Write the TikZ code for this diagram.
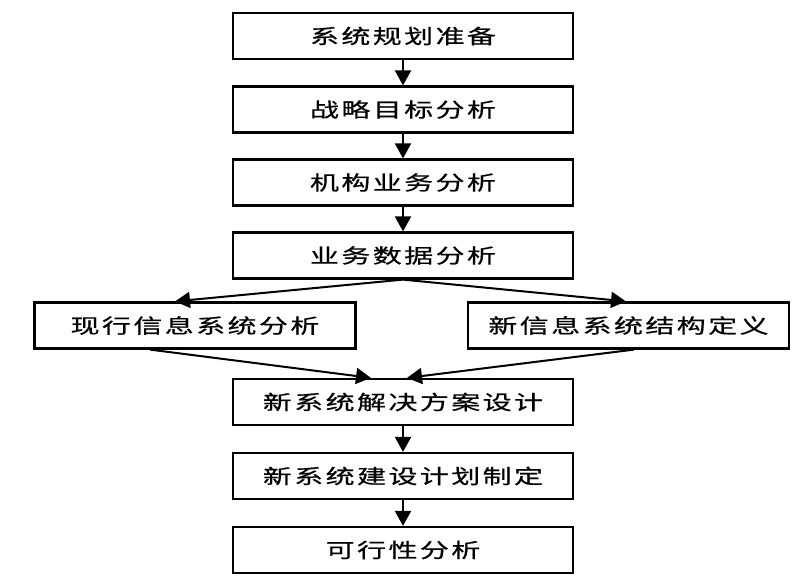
\documentclass[tikz,border=0pt]{standalone}
\usepackage{fontspec}
\newfontfamily\cjk[FakeStretch=1.45,LetterSpace=12,FakeBold=0.6]{Noto Sans CJK SC}
\usetikzlibrary{arrows.meta}
\begin{document}
\begin{tikzpicture}[x=1pt,y=1pt,
  box/.style={draw=black, line width=2.2pt, fill=white, minimum height=46pt, inner sep=0pt, font=\cjk\fontsize{20pt}{24pt}\selectfont},
  mainbox/.style={box, minimum width=340pt},
  sidebox/.style={box, minimum width=321pt},
  arr/.style={line width=2pt, -{Triangle[length=15pt,width=16pt]}}]
\useasboundingbox (0,0) rectangle (809,584);
\node[mainbox] (b1) at (403,548) {系统规划准备};
\node[mainbox] (b2) at (403,474.5) {战略目标分析};
\node[mainbox] (b3) at (403,401.5) {机构业务分析};
\node[mainbox] (b4) at (403,328.5) {业务数据分析};
\node[sidebox] (b5) at (195,258.5) {现行信息系统分析};
\node[sidebox] (b6) at (628.5,258.5) {新信息系统结构定义};
\node[mainbox] (b7) at (403,182) {新系统解决方案设计};
\node[mainbox] (b8) at (403,108) {新系统建设计划制定};
\node[mainbox] (b9) at (403,34) {可行性分析};
\draw[arr] (b1) -- (b2);
\draw[arr] (b2) -- (b3);
\draw[arr] (b3) -- (b4);
\draw[arr] (b4.south) -- ([xshift=-20pt]b5.north);
\draw[arr] (b4.south) -- ([xshift=-2.5pt]b6.north);
\draw[arr] ([xshift=-45pt]b5.south) -- ([xshift=-32pt]b7.north);
\draw[arr] ([xshift=5.5pt]b6.south) -- ([xshift=4pt]b7.north);
\draw[arr] (b7) -- (b8);
\draw[arr] (b8) -- (b9);
\end{tikzpicture}
\end{document}
